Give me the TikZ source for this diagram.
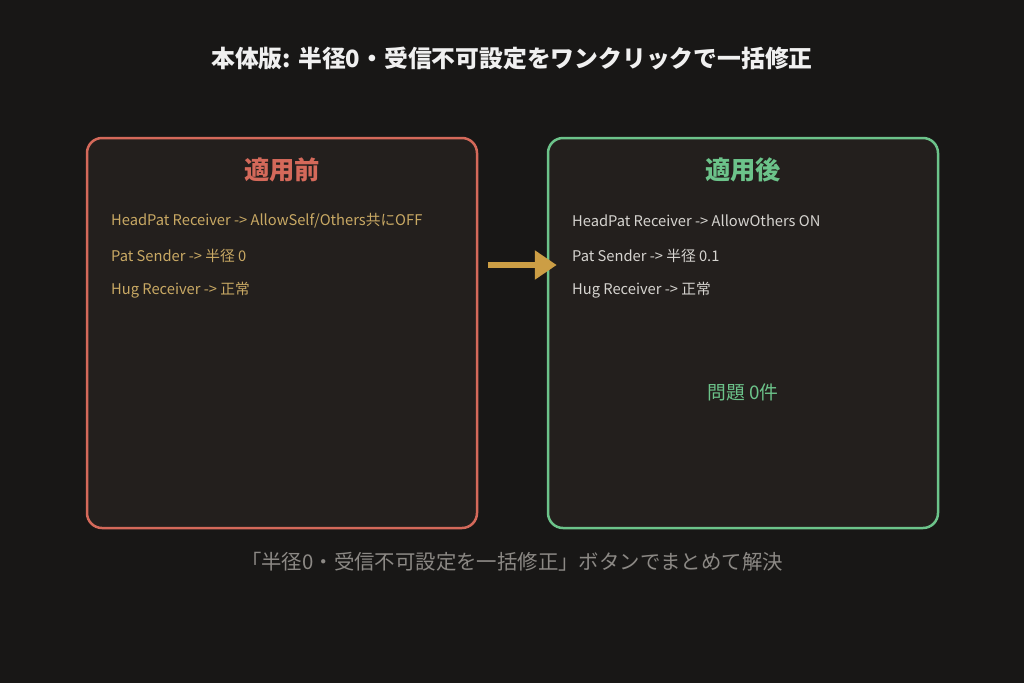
\documentclass[tikz,border=0pt]{standalone}
\usepackage{fontspec}
\setmainfont{Noto Sans CJK JP}
\usetikzlibrary{arrows.meta,positioning}
\definecolor{bgcol}{HTML}{181716}
\definecolor{boxfill}{HTML}{231F1D}
\definecolor{redline}{HTML}{D4695A}
\definecolor{greenline}{HTML}{6CC38A}
\definecolor{goldtext}{HTML}{C9A964}
\definecolor{greytext}{HTML}{D6D4D0}
\definecolor{arrowcol}{HTML}{CC9E45}
\definecolor{capgrey}{HTML}{8C8985}
\tikzset{
  panel/.style={draw, line width=2.5pt, rounded corners=15pt, fill=boxfill,
    minimum width=390pt, minimum height=390pt, inner sep=0pt},
  heading/.style={font=\bfseries\fontsize{25.3}{28}\selectfont},
  item/.style={anchor=west, inner sep=0pt, font=\fontsize{14.7}{17}\selectfont},
}
\begin{document}
\begin{tikzpicture}[x=1pt,y=-1pt]
  \fill[bgcol] (0,0) rectangle (1024,683);
  \useasboundingbox (0,0) rectangle (1024,683);
  \node[font=\bfseries\fontsize{23.8}{28}\selectfont, text=white!94!black] (title) at (512,58)
    {本体版: 半径0・受信不可設定をワンクリックで一括修正};
  % panels
  \node[panel, draw=redline] (before) at (282,333) {};
  \node[panel, draw=greenline] (after) at (743,333) {};
  \node[heading, text=redline] (beforehead) at (282,170) {適用前};
  \node[heading, text=greenline] (afterhead) at (743,170) {適用後};
  % left items
  \node[item, text=goldtext] (b1) at (111,221) {HeadPat Receiver -> AllowSelf/Others共にOFF};
  \node[item, text=goldtext] (b2) at (111,256) {Pat Sender -> 半径 0};
  \node[item, text=goldtext] (b3) at (111,290) {Hug Receiver -> 正常};
  % right items
  \node[item, text=greytext] (a1) at (572,221) {HeadPat Receiver -> AllowOthers ON};
  \node[item, text=greytext] (a2) at (572,256) {Pat Sender -> 半径 0.1};
  \node[item, text=greytext] (a3) at (572,290) {Hug Receiver -> 正常};
  \node[text=greenline, font=\fontsize{18.8}{22}\selectfont] (ok) at (743,392) {問題 0件};
  % arrow
  \coordinate (arrfrom) at ([xshift=10pt]before.east |- 0,265);
  \coordinate (arrto) at ([xshift=10pt]after.west |- 0,265);
  \draw[arrowcol, line width=6pt, -{Triangle[length=22pt,width=28pt]}] (arrfrom) -- (arrto);
  \node[text=capgrey, font=\fontsize{20.4}{24}\selectfont] (caption) at (512,562)
    {「半径0・受信不可設定を一括修正」ボタンでまとめて解決};
\end{tikzpicture}
\end{document}
